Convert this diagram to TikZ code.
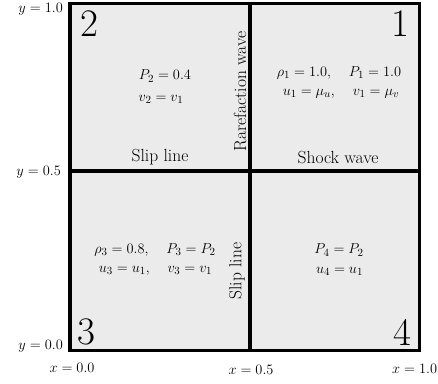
\documentclass[tikz,border=0pt]{standalone}
\usepackage{amsmath}
\begin{document}
\begin{tikzpicture}[x=1pt,y=-1pt,
  lbl/.style={inner sep=0pt,font=\fontsize{17.5}{20}\selectfont},
  eqn/.style={inner sep=0pt,font=\fontsize{15.5}{18}\selectfont},
  regnum/.style={inner sep=0pt,font=\fontsize{39}{41}\selectfont},
  heavy/.style={line width=3.6pt}]
\useasboundingbox (0,0) rectangle (438,383);
% domain
\fill[black!8] (70,3.5) rectangle (419.5,350.5);
\draw[heavy] (250,3.5) -- (250,350.5);
\draw[heavy] (70,171) -- (419.5,171);
\draw[heavy] (70,3.5) rectangle (419.5,350.5);
% region numbers
\node[regnum] (n2) at (89,24) {2};
\node[regnum] (n1) at (400,24) {1};
\node[regnum] (n3) at (86,331.5) {3};
\node[regnum] (n4) at (402.5,332) {4};
% region 2
\node[eqn] (r2a) at (165,76) {$P_2 = 0.4$};
\node[eqn] (r2b) at (161,99) {$v_2 = v_1$};
\node[lbl] (slip2) at (160,157) {Slip line};
\node[lbl,rotate=90] (rare) at (240,91.5) {Rarefaction wave};
% region 1
\node[eqn] (r1a) at (339,73) {$\rho_1 = 1.0,\quad P_1 = 1.0$};
\node[eqn] (r1b) at (341,94) {$u_1 = \mu_u,\quad v_1 = \mu_v$};
\node[lbl] (shock) at (338,158) {Shock wave};
% region 3
\node[eqn] (r3a) at (155,250) {$\rho_3 = 0.8,\quad P_3 = P_2$};
\node[eqn] (r3b) at (155.5,270.5) {$u_3 = u_1,\quad v_3 = v_1$};
\node[lbl,rotate=90] (slip3) at (237,271) {Slip line};
% region 4
\node[eqn] (r4a) at (339,250) {$P_4 = P_2$};
\node[eqn] (r4b) at (339.5,271) {$u_4 = u_1$};
% axis labels
\node[eqn,anchor=east] (y1) at (63,9) {$y = 1.0$};
\node[eqn,anchor=east] (y05) at (61,172) {$y = 0.5$};
\node[eqn,anchor=east] (y0) at (63,346) {$y = 0.0$};
\node[eqn] (x0) at (72,368) {$x = 0.0$};
\node[eqn] (x05) at (251,370) {$x = 0.5$};
\node[eqn,anchor=west] (x1) at (392,369) {$x = 1.0$};
\end{tikzpicture}
\end{document}
